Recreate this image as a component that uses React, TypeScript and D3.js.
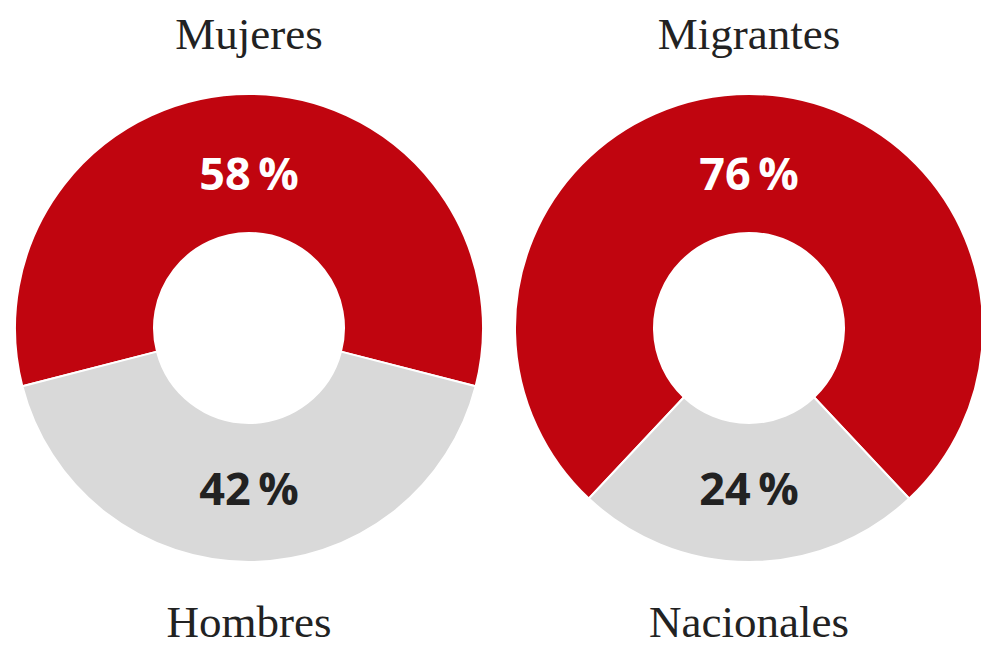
import React from "react";
import * as d3 from "d3";

const charts = ["Mujeres vs Hombres", "Migrantes vs Nacionales"];
const topLabels = ["Mujeres", "Migrantes"];
const bottomLabels = ["Hombres", "Nacionales"];
const redValues = [58, 76];
const grayValues = [42, 24];

const W = 981;
const H = 647;
const RED = "#c0050f";
const GRAY = "#d9d9d9";
const DARK = "#222222";

export default function App() {
  const centers = [249, 749];
  const cy = 328;
  const outerR = 234;
  const innerR = 95;
  const arc = d3.arc<any>().innerRadius(innerR).outerRadius(outerR);

  return (
    <svg
      width={W}
      height={H}
      viewBox={`0 0 ${W} ${H}`}
      style={{ position: "absolute", left: 0, top: 0, display: "block", background: "#fff" }}
    >
      {charts.map((c, i) => {
        const red = redValues[i];
        const gray = grayValues[i];
        const total = red + gray;
        const redSpan = (red / total) * 2 * Math.PI;
        const start = -redSpan / 2;
        const pie = d3
          .pie<number>()
          .sort(null)
          .value((d) => d)
          .startAngle(start)
          .endAngle(start + 2 * Math.PI);
        const arcs = pie([red, gray]);
        const cx = centers[i];
        return (
          <g key={c}>
            <g transform={`translate(${cx},${cy})`}>
              {arcs.map((a, j) => (
                <path
                  key={j}
                  d={arc(a) as string}
                  fill={j === 0 ? RED : GRAY}
                  stroke="#ffffff"
                  strokeWidth={2}
                  strokeLinejoin="miter"
                />
              ))}
              <text
                x={0}
                y={-138}
                textAnchor="middle"
                fill="#ffffff"
                style={{ fontFamily: "'Open Sans', sans-serif", fontWeight: 700, fontSize: 45 }}
              >
                {`${red}\u2009%`}
              </text>
              <text
                x={0}
                y={177}
                textAnchor="middle"
                fill={DARK}
                style={{ fontFamily: "'Open Sans', sans-serif", fontWeight: 700, fontSize: 45 }}
              >
                {`${gray}\u2009%`}
              </text>
            </g>
            <text
              x={cx}
              y={49}
              textAnchor="middle"
              fill={DARK}
              style={{ fontFamily: "'Liberation Serif', serif", fontSize: 45 }}
            >
              {topLabels[i]}
            </text>
            <text
              x={cx}
              y={637}
              textAnchor="middle"
              fill={DARK}
              style={{ fontFamily: "'Liberation Serif', serif", fontSize: 45 }}
            >
              {bottomLabels[i]}
            </text>
          </g>
        );
      })}
    </svg>
  );
}
